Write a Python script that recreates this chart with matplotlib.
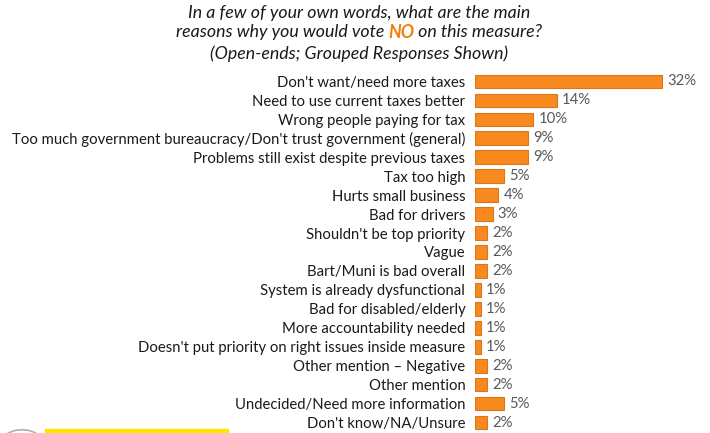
import matplotlib.pyplot as plt
from matplotlib.patches import Rectangle, Circle

plt.rcParams['font.family'] = ['Lato', 'DejaVu Sans']

categories = [
    "Don't want/need more taxes",
    "Need to use current taxes better",
    "Wrong people paying for tax",
    "Too much government bureaucracy/Don't trust government (general)",
    "Problems still exist despite previous taxes",
    "Tax too high",
    "Hurts small business",
    "Bad for drivers",
    "Shouldn't be top priority",
    "Vague",
    "Bart/Muni is bad overall",
    "System is already dysfunctional",
    "Bad for disabled/elderly",
    "More accountability needed",
    "Doesn't put priority on right issues inside measure",
    "Other mention \u2013 Negative",
    "Other mention",
    "Undecided/Need more information",
    "Don't know/NA/Unsure",
]
values = [32, 14, 10, 9, 9, 5, 4, 3, 2, 2, 2, 1, 1, 1, 1, 2, 2, 5, 2]

W, H = 710, 433
fig = plt.figure(figsize=(W / 100, H / 100), dpi=100)

# axes placed in pixel terms: bars start at x=475, rows from y=72 to y=432
ax = fig.add_axes([475 / W, 1 - 432 / H, 225 / W, (432 - 72) / H])
ypos = list(range(len(categories)))
ax.barh(ypos, values, height=0.72, color='#F7891F', edgecolor='#D9771A', linewidth=0.8)
ax.set_xlim(0, 38.5)
ax.set_ylim(len(categories) - 0.5, -0.5)
ax.set_yticks(ypos)
ax.set_yticklabels(categories, fontsize=10.75, color='#1a1a1a')
ax.tick_params(axis='y', length=0, pad=7)
ax.set_xticks([])
for s in ax.spines.values():
    s.set_visible(False)
for y, v in zip(ypos, values):
    ax.text(v + 0.9, y, f"{v}%", va='center', ha='left', fontsize=10.75, color='#595959')

# title
tkw = dict(fontsize=12.8, style='italic', color='#1a1a1a', ha='center', va='center')
fig.text(359 / W, 1 - 13 / H, "In a few of your own words, what are the main", **tkw)
fig.text(359 / W, 1 - 54 / H, "(Open-ends; Grouped Responses Shown)", **tkw)

parts = [("reasons why you would vote ", '#1a1a1a', 'normal'),
         ("NO", '#F07F09', 'bold'),
         (" on this measure?", '#1a1a1a', 'normal')]
texts = []
for s, c, w in parts:
    texts.append(fig.text(0, 1 - 32 / H, s, fontsize=12.8, style='italic', color=c,
                          weight=w, ha='left', va='center'))
fig.canvas.draw()
r = fig.canvas.get_renderer()
widths = [t.get_window_extent(r).width for t in texts]
x = 359 - sum(widths) / 2
for t, w in zip(texts, widths):
    t.set_x(x / W)
    x += w

# footer decoration
fig.patches.append(Rectangle((45 / W, 0), 183 / W, 4 / H, transform=fig.transFigure,
                             color='#FFE600', zorder=5))
fig.patches.append(Circle((22 / W, -9 / H), 20 / W, transform=fig.transFigure,
                          fill=False, edgecolor='#b0b0b0', linewidth=1.2))

fig.savefig('out.png', dpi=100)
